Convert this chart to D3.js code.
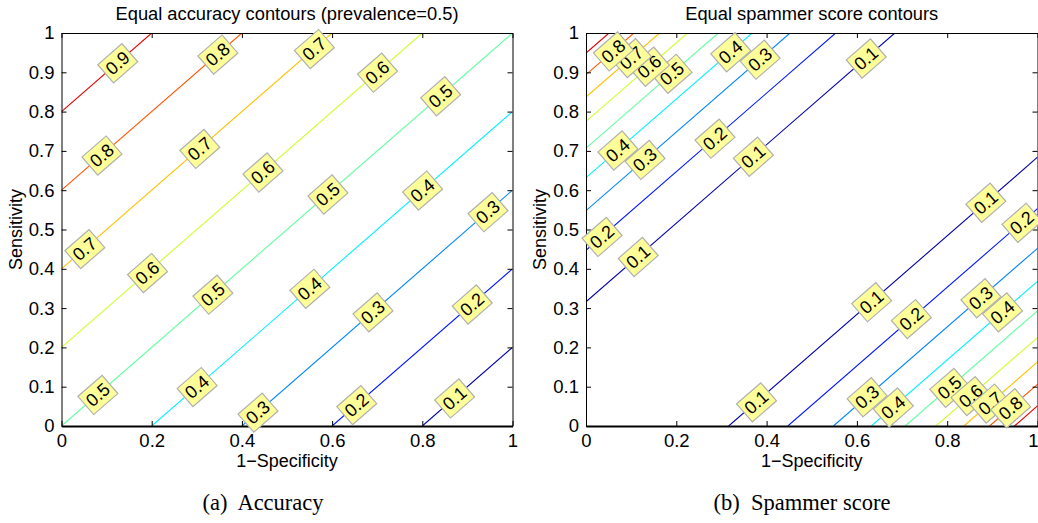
<!DOCTYPE html>
<html>
<head>
<meta charset="utf-8">
<script src="https://cdn.jsdelivr.net/npm/d3@7/dist/d3.min.js"></script>
<style>
  html, body { margin: 0; padding: 0; background: #fff; }
  svg { display: block; }
</style>
</head>
<body>
<svg id="chart" width="1038" height="523"></svg>
<script>
// ---------------- data ----------------
const xTicks = [0, 0.2, 0.4, 0.6, 0.8, 1];
const xTickLabels = ["0", "0.2", "0.4", "0.6", "0.8", "1"];
const yTicks = [0, 0.1, 0.2, 0.3, 0.4, 0.5, 0.6, 0.7, 0.8, 0.9, 1];
const yTickLabels = ["0", "0.1", "0.2", "0.3", "0.4", "0.5", "0.6", "0.7", "0.8", "0.9", "1"];

// Accuracy panel: contour levels, line offsets (sensitivity at 1-specificity = 0)
const accLevels  = [0.1, 0.2, 0.3, 0.4, 0.5, 0.6, 0.7, 0.8, 0.9];
const accOffsets = [-0.8, -0.6, -0.4, -0.2, 0.0, 0.2, 0.4, 0.6, 0.8];
// label positions along each line (1-specificity values)
const accLabelPos = [
  [0.871],
  [0.654, 0.91],
  [0.435, 0.69, 0.945],
  [0.30, 0.55, 0.80],
  [0.08, 0.335, 0.59, 0.84],
  [0.19, 0.446, 0.70],
  [0.051, 0.306, 0.56],
  [0.089, 0.346],
  [0.124]
];

// Spammer score panel: levels, offsets above and below the diagonal
const spamLevels       = [0.1, 0.2, 0.3, 0.4, 0.5, 0.6, 0.7, 0.8, 0.9];
const spamUpperOffsets = [0.316, 0.447, 0.548, 0.632, 0.707, 0.775, 0.837, 0.894, 0.949];
const spamLowerOffsets = [-0.316, -0.447, -0.548, -0.632, -0.707, -0.775, -0.837, -0.894, -0.949];
const spamUpperLabelPos = [
  [0.115, 0.37, 0.62],
  [0.035, 0.285],
  [0.13, 0.385],
  [0.07, 0.32],
  [0.19],
  [0.14],
  [0.10],
  [0.06],
  []
];
const spamLowerLabelPos = [
  [0.377, 0.632, 0.885],
  [0.72, 0.965],
  [0.622, 0.874],
  [0.68, 0.922],
  [0.805],
  [0.852],
  [0.895],
  [0.94],
  []
];

const titles   = ["Equal accuracy contours (prevalence=0.5)", "Equal spammer score contours"];
const captions = ["(a)  Accuracy", "(b)  Spammer score"];
const xLabel = "1\u2212Specificity";
const yLabel = "Sensitivity";

// ---------------- helpers ----------------
const SANS = "'Liberation Sans', Arial, Helvetica, sans-serif";
const SERIF = "'Liberation Serif', 'Times New Roman', serif";

function jet(t) {
  const c = v => Math.max(0, Math.min(1, v));
  const r = c(1.5 - Math.abs(4 * t - 3));
  const g = c(1.5 - Math.abs(4 * t - 2));
  const b = c(1.5 - Math.abs(4 * t - 1));
  return d3.rgb(r * 255, g * 255, b * 255).formatHex();
}
// colour index for a contour level (slight stretch so the lowest level is navy)
const levelColor = d3.scaleLinear().domain([0.1, 0.9]).range([0.04, 0.9]);

const svg = d3.select("#chart");
const yTop = 33, yBot = 426;

function drawPanel(cfg) {
  const x = d3.scaleLinear().domain([0, 1]).range([cfg.x0, cfg.x1]);
  const y = d3.scaleLinear().domain([0, 1]).range([yBot, yTop]);
  const g = svg.append("g");

  const clipId = "clip" + cfg.id;
  svg.append("defs").append("clipPath").attr("id", clipId)
    .append("rect").attr("x", cfg.x0).attr("y", yTop)
    .attr("width", cfg.x1 - cfg.x0).attr("height", yBot - yTop);

  const plot = g.append("g").attr("clip-path", `url(#${clipId})`);

  // contour lines
  cfg.lines.forEach(L => {
    const b = L.offset;
    const p0 = [Math.max(0, -b), Math.max(0, b)];
    const p1 = [Math.min(1, 1 - b), Math.min(1, 1 + b)];
    plot.append("line")
      .attr("x1", x(p0[0])).attr("y1", y(p0[1]))
      .attr("x2", x(p1[0])).attr("y2", y(p1[1]))
      .attr("stroke", jet(levelColor(L.level))).attr("stroke-width", 1.1);
  });

  // axes (ticks inward)
  const fmtX = (d, i) => xTickLabels[i];
  const fmtY = (d, i) => yTickLabels[i];
  const axB = g.append("g").attr("transform", `translate(0,${yBot})`)
    .call(d3.axisBottom(x).tickValues(xTicks).tickFormat(fmtX).tickSizeInner(-5).tickSizeOuter(0).tickPadding(8));
  const axT = g.append("g").attr("transform", `translate(0,${yTop})`)
    .call(d3.axisTop(x).tickValues(xTicks).tickFormat("").tickSizeInner(-5).tickSizeOuter(0));
  const axL = g.append("g").attr("transform", `translate(${cfg.x0},0)`)
    .call(d3.axisLeft(y).tickValues(yTicks).tickFormat(fmtY).tickSizeInner(-5).tickSizeOuter(0).tickPadding(7));
  const axR = g.append("g").attr("transform", `translate(${cfg.x1},0)`)
    .call(d3.axisRight(y).tickValues(yTicks).tickFormat("").tickSizeInner(-5).tickSizeOuter(0));
  [axB, axT, axL, axR].forEach(a => {
    a.selectAll("text").attr("font-size", 18.5).attr("fill", "#000")
      .attr("font-family", SANS);
    a.selectAll("line").attr("stroke", "#000");
    a.select(".domain").attr("stroke", "#000").attr("stroke-width", 1);
  });
  axB.select(".domain").attr("stroke-width", 2);
  if (cfg.clipLastX) {
    // keep the last x tick label inside the picture
    axB.selectAll(".tick text").filter((d, i) => i === xTicks.length - 1)
      .attr("text-anchor", "end").attr("x", 1038 - cfg.x1);
  }

  // contour labels
  const ang = Math.atan2(yBot - yTop, cfg.x1 - cfg.x0) * 180 / Math.PI;
  const labG = g.append("g");
  cfg.lines.forEach(L => {
    L.pos.forEach(fx => {
      const px = x(fx), py = y(fx + L.offset);
      const lg = labG.append("g").attr("transform", `translate(${px},${py}) rotate(${-ang})`);
      const rect = lg.append("rect");
      const t = lg.append("text").text(String(L.level))
        .attr("text-anchor", "middle").attr("dy", "0.36em")
        .attr("font-family", SANS)
        .attr("font-size", 18).attr("fill", "#000");
      const bb = t.node().getBBox();
      const padX = 3.5, padY = 3;
      rect.attr("x", bb.x - padX).attr("y", bb.y - padY + 1)
        .attr("width", bb.width + 2 * padX).attr("height", bb.height + 2 * padY - 2)
        .attr("fill", "#ffff99").attr("stroke", "#b0b0b0").attr("stroke-width", 1.2);
    });
  });

  // titles and labels
  const cx = (cfg.x0 + cfg.x1) / 2;
  g.append("text").attr("x", cx).attr("y", 20).attr("text-anchor", "middle")
    .attr("font-family", SANS).attr("font-size", 18.3).text(cfg.title);
  g.append("text").attr("x", cx).attr("y", 467).attr("text-anchor", "middle")
    .attr("font-family", SANS).attr("font-size", 18).text(xLabel);
  g.append("text").attr("transform", `translate(${cfg.x0 - 40},${(yTop + yBot) / 2}) rotate(-90)`)
    .attr("text-anchor", "middle").attr("font-family", SANS).attr("font-size", 18).text(yLabel);
  g.append("text").attr("x", cfg.capX).attr("y", 510).attr("text-anchor", "middle")
    .attr("font-family", SERIF)
    .attr("font-size", 22.5).attr("xml:space", "preserve").style("white-space", "pre")
    .text(cfg.caption);
}

drawPanel({
  id: 0, x0: 61.5, x1: 512.5, title: titles[0], caption: captions[0], capX: 263,
  lines: accLevels.map((lv, i) => ({ level: lv, offset: accOffsets[i], pos: accLabelPos[i] }))
});

drawPanel({
  id: 1, x0: 586, x1: 1037.5, title: titles[1], caption: captions[1], capX: 802, clipLastX: true,
  lines: spamLevels.map((lv, i) => ({ level: lv, offset: spamUpperOffsets[i], pos: spamUpperLabelPos[i] }))
    .concat(spamLevels.map((lv, i) => ({ level: lv, offset: spamLowerOffsets[i], pos: spamLowerLabelPos[i] })))
});
</script>
</body>
</html>
